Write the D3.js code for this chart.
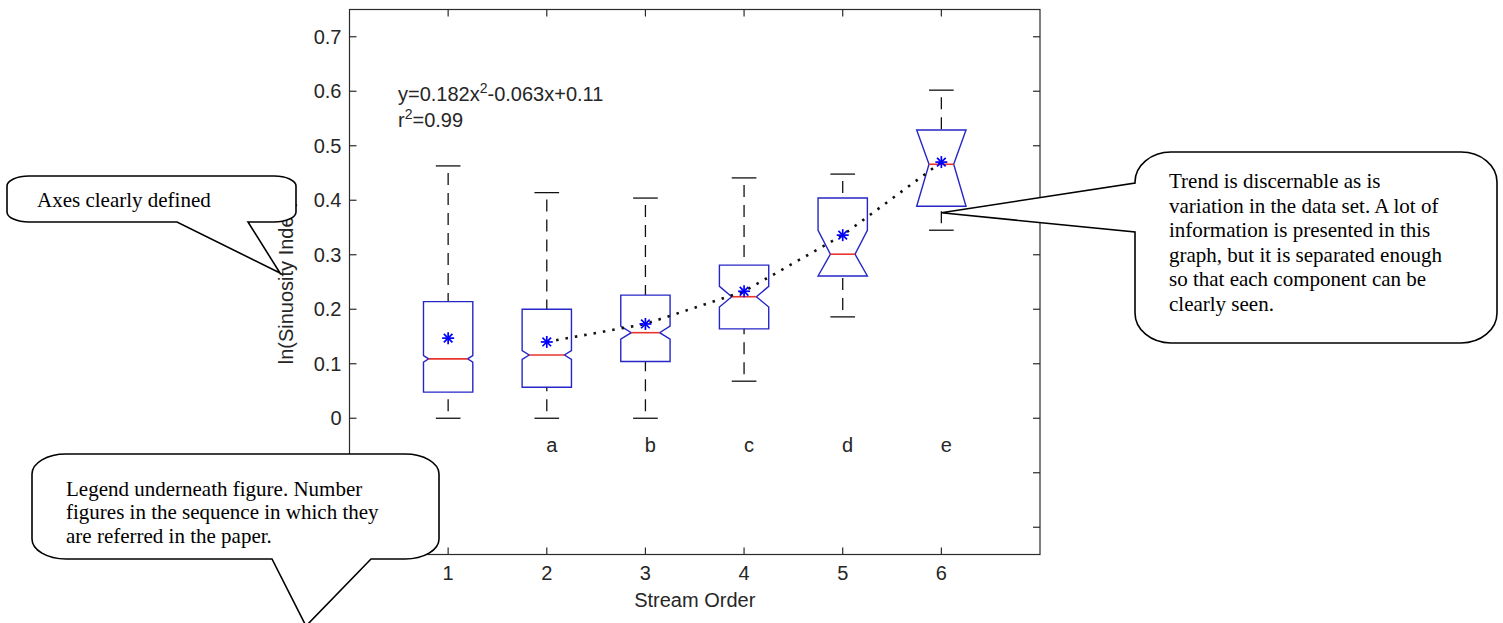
<!DOCTYPE html>
<html>
<head>
<meta charset="utf-8">
<script src="https://cdn.jsdelivr.net/npm/d3@7"></script>
<style>
  body { margin: 0; background: #fff; }
  svg { display: block; }
</style>
</head>
<body>
<div id="chart"></div>
<script>
// stream order groups and the stats
const categories = [1, 2, 3, 4, 5, 6];
const groupLetters = ["", "a", "b", "c", "d", "e"];
const upperWhisker = [0.463, 0.414, 0.404, 0.441, 0.448, 0.602];
const q3 = [0.214, 0.200, 0.226, 0.281, 0.404, 0.529];
const medians = [0.109, 0.116, 0.157, 0.223, 0.301, 0.466];
const q1 = [0.048, 0.057, 0.104, 0.164, 0.261, 0.389];
const lowerWhisker = [0.0, 0.0, 0.0, 0.068, 0.186, 0.345];
const means = [0.147, 0.140, 0.173, 0.233, 0.336, 0.470];
const notchHalf = [0.006, 0.008, 0.012, 0.019, 0.044, 0.08];
const trendFrom = 2; // dotted trend joins the means from order 2 on

const xTicks = [1, 2, 3, 4, 5, 6];
const yTicks = [-0.2, -0.1, 0, 0.1, 0.2, 0.3, 0.4, 0.5, 0.6, 0.7];
// labels below zero sit under the legend note, so only these are written
const yTickLabels = [0, 0.1, 0.2, 0.3, 0.4, 0.5, 0.6, 0.7];

const width = 1503,
  height = 623;

const svg = d3
  .select("#chart")
  .append("svg")
  .attr("width", width)
  .attr("height", height)
  .attr("viewBox", [0, 0, width, height]);

const x = d3.scaleLinear().domain([0, 7]).range([349.5, 1040]);
const y = d3.scaleLinear().domain([-0.25, 0.75]).range([554.5, 9.5]);

const axisFont = "'Liberation Sans', Arial, sans-serif";
const noteFont = "'Liberation Serif', 'Times New Roman', serif";
const boxBlue = "#2626c8";

// axes frame
svg
  .append("rect")
  .attr("x", x(0))
  .attr("y", y(0.75))
  .attr("width", x(7) - x(0))
  .attr("height", y(-0.25) - y(0.75))
  .attr("fill", "none")
  .attr("stroke", "#2a2a2a")
  .attr("stroke-width", 1.2);

const tickLen = 7;
const ticks = svg.append("g").attr("stroke", "#2a2a2a").attr("stroke-width", 1.2);

ticks
  .selectAll(".ytl")
  .data(yTicks)
  .join("line")
  .attr("x1", x(0))
  .attr("x2", x(0) + tickLen)
  .attr("y1", (d) => y(d))
  .attr("y2", (d) => y(d));
ticks
  .selectAll(".ytr")
  .data(yTicks)
  .join("line")
  .attr("x1", x(7))
  .attr("x2", x(7) - tickLen)
  .attr("y1", (d) => y(d))
  .attr("y2", (d) => y(d));
ticks
  .selectAll(".xtb")
  .data(xTicks)
  .join("line")
  .attr("x1", (d) => x(d))
  .attr("x2", (d) => x(d))
  .attr("y1", y(-0.25))
  .attr("y2", y(-0.25) - tickLen);
ticks
  .selectAll(".xtt")
  .data(xTicks)
  .join("line")
  .attr("x1", (d) => x(d))
  .attr("x2", (d) => x(d))
  .attr("y1", y(0.75))
  .attr("y2", y(0.75) + tickLen);

// tick labels
svg
  .append("g")
  .selectAll("text")
  .data(yTickLabels)
  .join("text")
  .attr("x", x(0) - 8)
  .attr("y", (d) => y(d) + 7)
  .attr("text-anchor", "end")
  .style("font-family", axisFont)
  .style("font-size", "20px")
  .attr("fill", "#262626")
  .text((d) => (d === 0 ? "0" : d3.format(".1f")(d)));

svg
  .append("g")
  .selectAll("text")
  .data(xTicks)
  .join("text")
  .attr("x", (d) => x(d))
  .attr("y", 580)
  .attr("text-anchor", "middle")
  .style("font-family", axisFont)
  .style("font-size", "20px")
  .attr("fill", "#262626")
  .text((d) => d);

svg
  .append("text")
  .attr("x", (x(0) + x(7)) / 2)
  .attr("y", 607)
  .attr("text-anchor", "middle")
  .style("font-family", axisFont)
  .style("font-size", "20px")
  .attr("fill", "#262626")
  .text("Stream Order");

svg
  .append("text")
  .attr("transform", `translate(293 ${(y(0.75) + y(-0.25)) / 2}) rotate(-90)`)
  .attr("text-anchor", "middle")
  .style("font-family", axisFont)
  .style("font-size", "20px")
  .attr("fill", "#262626")
  .text("ln(Sinuosity Index)");

// fit equation
const eq = svg
  .append("text")
  .attr("x", 398)
  .attr("y", 101)
  .style("font-family", axisFont)
  .style("font-size", "20px")
  .attr("fill", "#262626");
eq.append("tspan").text("y=0.182x");
eq.append("tspan").attr("dy", -8).style("font-size", "14px").text("2");
eq.append("tspan").attr("dy", 8).text("-0.063x+0.11");

const r2 = svg
  .append("text")
  .attr("x", 398)
  .attr("y", 127)
  .style("font-family", axisFont)
  .style("font-size", "20px")
  .attr("fill", "#262626");
r2.append("tspan").text("r");
r2.append("tspan").attr("dy", -8).style("font-size", "14px").text("2");
r2.append("tspan").attr("dy", 8).text("=0.99");

// boxes
const boxes = categories.map((c, i) => ({
  c: c,
  hi: upperWhisker[i],
  q3: q3[i],
  med: medians[i],
  q1: q1[i],
  lo: lowerWhisker[i],
  mean: means[i],
  notch: notchHalf[i],
}));

const halfW = x(0.25) - x(0);
const capW = x(0.125) - x(0);

function boxPath(d) {
  const cx = x(d.c);
  const top = y(d.q3),
    bot = y(d.q1),
    my = y(d.med);
  const nHi = Math.max(y(d.med + d.notch), top);
  const nLo = Math.min(y(d.med - d.notch), bot);
  const depth = Math.min(halfW / 2, 1.6 * (y(d.med) - y(d.med + d.notch)));
  d.inner = halfW - depth;
  const l = cx - halfW,
    r = cx + halfW;
  return [
    [l, bot],
    [l, nLo],
    [cx - d.inner, my],
    [l, nHi],
    [l, top],
    [r, top],
    [r, nHi],
    [cx + d.inner, my],
    [r, nLo],
    [r, bot],
  ];
}

const bg = svg.append("g");

// whiskers
bg.selectAll(".whiskUp")
  .data(boxes)
  .join("line")
  .attr("x1", (d) => x(d.c))
  .attr("x2", (d) => x(d.c))
  .attr("y1", (d) => y(d.hi))
  .attr("y2", (d) => y(d.q3))
  .attr("stroke", "#111")
  .attr("stroke-width", 1.3)
  .attr("stroke-dasharray", "12,8")
  .attr("stroke-dashoffset", 13);
bg.selectAll(".whiskLo")
  .data(boxes)
  .join("line")
  .attr("x1", (d) => x(d.c))
  .attr("x2", (d) => x(d.c))
  .attr("y1", (d) => y(d.lo))
  .attr("y2", (d) => y(d.q1))
  .attr("stroke", "#111")
  .attr("stroke-width", 1.3)
  .attr("stroke-dasharray", "12,8")
  .attr("stroke-dashoffset", 13);

// caps
bg.selectAll(".capUp")
  .data(boxes)
  .join("line")
  .attr("x1", (d) => x(d.c) - capW)
  .attr("x2", (d) => x(d.c) + capW)
  .attr("y1", (d) => y(d.hi))
  .attr("y2", (d) => y(d.hi))
  .attr("stroke", "#111")
  .attr("stroke-width", 1.3);
bg.selectAll(".capLo")
  .data(boxes)
  .join("line")
  .attr("x1", (d) => x(d.c) - capW)
  .attr("x2", (d) => x(d.c) + capW)
  .attr("y1", (d) => y(d.lo))
  .attr("y2", (d) => y(d.lo))
  .attr("stroke", "#111")
  .attr("stroke-width", 1.3);

// notched boxes
bg.selectAll(".box")
  .data(boxes)
  .join("path")
  .attr("d", (d) => d3.line()(boxPath(d)) + "Z")
  .attr("fill", "none")
  .attr("stroke", boxBlue)
  .attr("stroke-width", 1.4);

// medians
bg.selectAll(".med")
  .data(boxes)
  .join("line")
  .attr("x1", (d) => x(d.c) - d.inner)
  .attr("x2", (d) => x(d.c) + d.inner)
  .attr("y1", (d) => y(d.med))
  .attr("y2", (d) => y(d.med))
  .attr("stroke", "#e8342c")
  .attr("stroke-width", 1.6);

// dotted trend through the means
const trendPts = boxes.filter((d) => d.c >= trendFrom);
svg
  .append("path")
  .attr(
    "d",
    d3
      .line()
      .x((d) => x(d.c))
      .y((d) => y(d.mean))(trendPts)
  )
  .attr("fill", "none")
  .attr("stroke", "#111")
  .attr("stroke-width", 2.6)
  .attr("stroke-dasharray", "2.5,7");

// mean stars
const star = svg
  .append("g")
  .selectAll("g")
  .data(boxes)
  .join("g")
  .attr("transform", (d) => `translate(${x(d.c)} ${y(d.mean)})`)
  .attr("stroke", "#0000ff")
  .attr("stroke-width", 1.7);
star.append("line").attr("x1", -6).attr("x2", 6);
star.append("line").attr("y1", -6).attr("y2", 6);
star.append("line").attr("x1", -4.3).attr("y1", -4.3).attr("x2", 4.3).attr("y2", 4.3);
star.append("line").attr("x1", -4.3).attr("y1", 4.3).attr("x2", 4.3).attr("y2", -4.3);

// group letters
svg
  .append("g")
  .selectAll("text")
  .data(categories)
  .join("text")
  .attr("x", (d) => x(d + 0.05))
  .attr("y", y(-0.062))
  .attr("text-anchor", "middle")
  .style("font-family", axisFont)
  .style("font-size", "20px")
  .attr("fill", "#262626")
  .text((d, i) => groupLetters[i]);

// callouts: rounded box with a wedge tail on one side
function callout(x0, y0, x1, y1, rx, ry, tail) {
  let s = `M${x0 + rx},${y0} H${x1 - rx} A${rx},${ry} 0 0 1 ${x1},${y0 + ry} V${y1 - ry} A${rx},${ry} 0 0 1 ${x1 - rx},${y1}`;
  if (tail.side === "bottom") {
    s += ` H${tail.b} L${tail.tip[0]},${tail.tip[1]} L${tail.a},${y1}`;
  }
  s += ` H${x0 + rx} A${rx},${ry} 0 0 1 ${x0},${y1 - ry}`;
  if (tail.side === "left") {
    s += ` V${tail.b} L${tail.tip[0]},${tail.tip[1]} L${x0},${tail.a}`;
  }
  s += ` V${y0 + ry} A${rx},${ry} 0 0 1 ${x0 + rx},${y0} Z`;
  return s;
}

function note(path, lines, tx, ty, lh) {
  const g = svg.append("g");
  g.append("path")
    .attr("d", path)
    .attr("fill", "#fff")
    .attr("stroke", "#000")
    .attr("stroke-width", 1.6)
    .attr("stroke-linejoin", "miter");
  g.append("g")
    .selectAll("text")
    .data(lines)
    .join("text")
    .attr("x", tx)
    .attr("y", (d, i) => ty + i * lh)
    .style("font-family", noteFont)
    .style("font-size", "21px")
    .attr("fill", "#000")
    .text((d) => d);
}

note(
  callout(7, 176, 296, 222, 22, 10, { side: "bottom", a: 177, b: 248, tip: [280, 273] }),
  ["Axes clearly defined"],
  37,
  207,
  24
);

note(
  callout(1135, 152, 1497, 343, 36, 30, {
    side: "left",
    a: 183,
    b: 232,
    tip: [x(6), y(0.377)],
  }),
  [
    "Trend is discernable as is",
    "variation in the data set. A lot of",
    "information is presented in this",
    "graph, but it is separated enough",
    "so that each component can be",
    "clearly seen.",
  ],
  1169,
  188,
  24.6
);

note(
  callout(32, 454, 439, 559, 34, 20, { side: "bottom", a: 272, b: 371, tip: [306, 626] }),
  [
    "Legend underneath figure. Number",
    "figures in the sequence in which they",
    "are referred in the paper.",
  ],
  66,
  496,
  23.3
);
</script>
</body>
</html>
